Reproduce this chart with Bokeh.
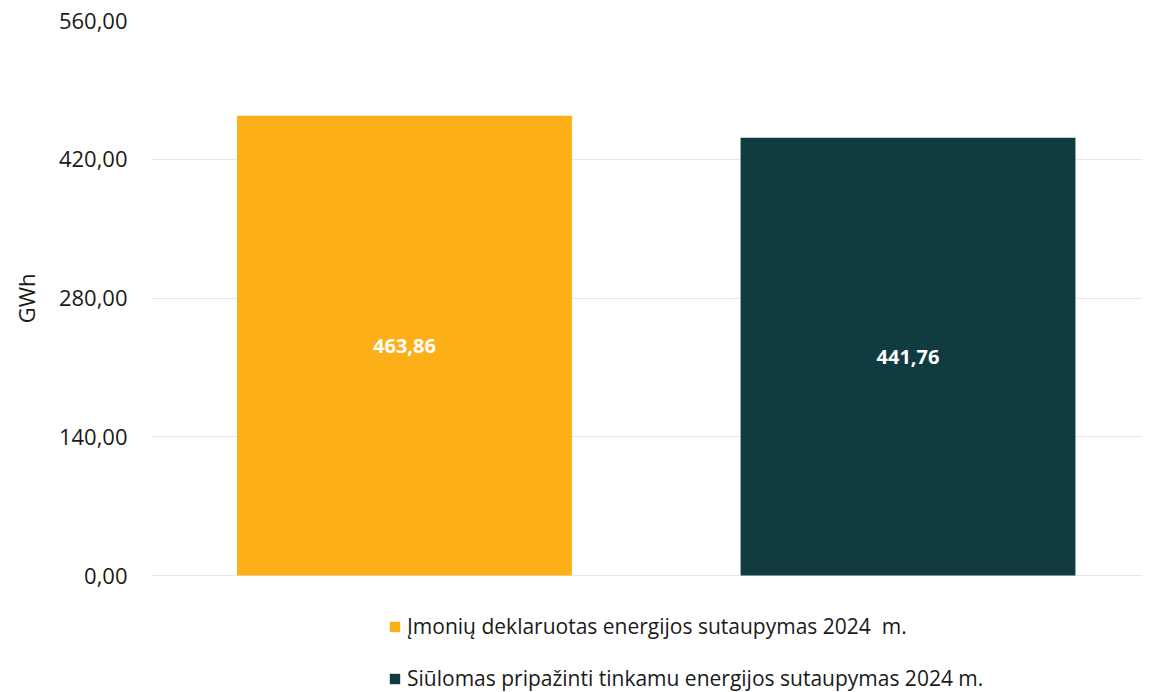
from bokeh.plotting import figure
from bokeh.models import ColumnDataSource, Range1d, Legend, LegendItem, LabelSet, FixedTicker, CustomJSTickFormatter, Title
from bokeh.core.properties import value
from bokeh.embed import file_html
from bokeh.resources import INLINE

categories = ["Įmonių deklaruotas energijos sutaupymas 2024  m.",
              "Siūlomas pripažinti tinkamu energijos sutaupymas 2024 m."]
values = [463.86, 441.76]
labels = ["463,86", "441,76"]
colors = ["#FDAF17", "#0F3B41"]
y_ticks = [0, 140, 280, 420, 560]

FONT = "Open Sans"

src = ColumnDataSource(dict(
    x=list(range(len(categories))),
    top=values,
    mid=[v / 2 for v in values],
    lab=labels,
    color=colors,
    name=categories,
))

p = figure(width=1151, height=692, output_backend="svg", toolbar_location=None,
           x_range=Range1d(-0.5025, 1.4657), y_range=Range1d(-118, 560),
           x_axis_location=None, margin=(0, 0, 0, -9),
           min_border_left=160, min_border_top=20, min_border_right=0, min_border_bottom=0)
p.outline_line_color = None
p.background_fill_color = "white"
p.border_fill_color = "white"

r = p.vbar(x="x", top="top", width=0.665, bottom=0, color="color", source=src, line_color=None)

p.add_layout(LabelSet(x="x", y="mid", text="lab", source=src, text_color="white",
                      text_font=value(FONT), text_font_size="20px", text_font_style="bold",
                      text_align="center", text_baseline="middle"))

p.xgrid.visible = False
p.ygrid.grid_line_color = "#E8E8E8"
p.ygrid.grid_line_width = 1

ax = p.yaxis[0]
ax.ticker = FixedTicker(ticks=y_ticks)
ax.formatter = CustomJSTickFormatter(code="return tick.toFixed(2).replace('.', ',');")
ax.axis_line_color = None
ax.major_tick_line_color = None
ax.minor_tick_line_color = None
ax.major_label_text_font = FONT
ax.major_label_text_font_size = "22px"
ax.major_label_text_color = "#1a1a1a"
ax.major_label_standoff = 18

ytitle = Title(text="GWh", align="right", offset=253, text_font=FONT,
               text_font_size="22px", text_font_style="normal", text_color="#1a1a1a",
               standoff=29)
p.add_layout(ytitle, "left")

legend = Legend(items=[LegendItem(label=name, renderers=[r], index=i)
                       for i, name in enumerate(categories)],
                location=(237, 0), orientation="vertical",
                padding=0, margin=0, spacing=24, border_line_color=None,
                background_fill_alpha=0, glyph_width=13, glyph_height=13,
                label_text_font=FONT, label_text_font_size="21px",
                label_text_color="#1a1a1a", label_standoff=6, label_height=20)
p.add_layout(legend, "center")

open("out.html", "w").write(file_html(p, INLINE))
